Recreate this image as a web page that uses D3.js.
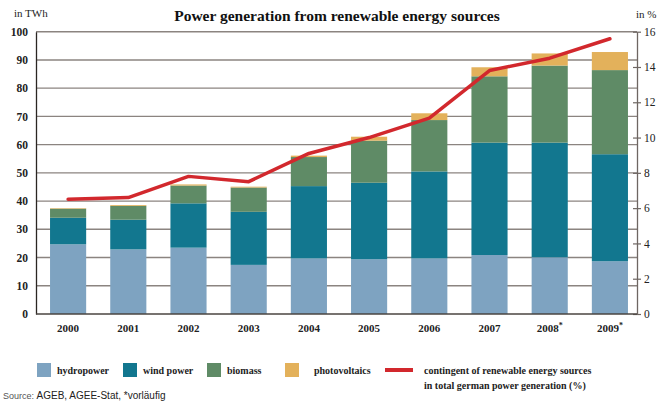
<!DOCTYPE html>
<html>
<head>
<meta charset="utf-8">
<script src="https://cdn.jsdelivr.net/npm/d3@7"></script>
<style>
  body { margin: 0; background: #ffffff; }
  text { font-family: "Liberation Serif", "DejaVu Serif", serif; }
</style>
</head>
<body>
<div id="chart"></div>
<script>
const wSvg = 659
const hSvg = 403

// years on x axis (label, superscript mark)
const years = ["2000", "2001", "2002", "2003", "2004", "2005", "2006", "2007", "2008", "2009"]
const yearMarks = ["", "", "", "", "", "", "", "", "*", "*"]

// TWh per source
const hydropower = [24.7, 22.9, 23.5, 17.4, 19.7, 19.4, 19.7, 20.9, 20.1, 18.7]
const windPower = [9.4, 10.5, 15.7, 18.8, 25.6, 27.1, 30.8, 39.8, 40.6, 37.9]
const biomass = [3.2, 4.9, 6.3, 8.6, 10.3, 14.9, 18.2, 23.5, 27.3, 29.8]
const photovoltaics = [0.2, 0.3, 0.4, 0.3, 0.5, 1.4, 2.4, 3.2, 4.3, 6.4]

// share of renewables in total power generation, %
const renewableShare = [6.5, 6.6, 7.8, 7.5, 9.1, 10.0, 11.1, 13.8, 14.5, 15.6]

const leftTicks = [0, 10, 20, 30, 40, 50, 60, 70, 80, 90, 100]
const rightTicks = [0, 2, 4, 6, 8, 10, 12, 14, 16]

const seriesKeys = ["hydropower", "wind power", "biomass", "photovoltaics"]
const seriesData = [hydropower, windPower, biomass, photovoltaics]
const colors = ["#7ea3c1", "#12778f", "#5f8b66", "#e3b15b"]
const lineColor = "#d2282d"

let svg = d3.select("#chart")
            .append("svg")
            .attr("width", wSvg)
            .attr("height", hSvg)

const plotLeft = 36
const plotRight = 637
const plotTop = 31.7
const plotBottom = 314

// scales
let xScale = d3.scaleBand(years, [38, 640])
               .paddingInner(0.4)
               .paddingOuter(0.2)

let yScale = d3.scaleLinear([0, 100], [plotBottom, plotTop])
let y2Scale = d3.scaleLinear([0, 16], [plotBottom, plotTop])

// stacked table
let table = years.map((y, i) => {
  let row = { year: y }
  seriesKeys.forEach((k, j) => row[k] = seriesData[j][i])
  return row
})
let stacked = d3.stack().keys(seriesKeys)(table)

// gridlines
svg.append("g")
   .selectAll("line")
   .data(leftTicks.slice(1))
   .enter()
   .append("line")
   .attr("x1", plotLeft)
   .attr("x2", plotRight)
   .attr("y1", d => yScale(d))
   .attr("y2", d => yScale(d))
   .attr("stroke", "#8b8480")
   .attr("stroke-width", 1.4)

// bars
svg.append("g")
   .selectAll("g")
   .data(stacked)
   .enter()
   .append("g")
   .attr("fill", (d, i) => colors[i])
   .selectAll("rect")
   .data(d => d)
   .enter()
   .append("rect")
   .attr("x", d => xScale(d.data.year))
   .attr("width", xScale.bandwidth())
   .attr("y", d => yScale(d[1]))
   .attr("height", d => yScale(d[0]) - yScale(d[1]))

// left axis
let yAxisFunction = d3.axisLeft(yScale).tickValues(leftTicks).tickSize(0).tickPadding(8)
let yAxisG = svg.append("g")
   .attr("transform", `translate(${plotLeft}, 0)`)
   .call(yAxisFunction)
yAxisG.select(".domain").attr("stroke", "#2b2623").attr("stroke-width", 1.3)
yAxisG.selectAll("text")
      .style("font-family", "Liberation Serif")
      .style("font-weight", "bold")
      .style("font-size", "11.5px")
      .attr("fill", "#222")

// right axis
let y2AxisFunction = d3.axisRight(y2Scale).tickValues(rightTicks).tickSizeInner(4).tickSizeOuter(0).tickPadding(3)
let y2AxisG = svg.append("g")
   .attr("transform", `translate(${plotRight}, 0)`)
   .call(y2AxisFunction)
y2AxisG.select(".domain").attr("stroke", "#6e6662").attr("stroke-width", 1.3)
y2AxisG.selectAll("line").attr("stroke", "#6e6662").attr("stroke-width", 1.2).attr("x1", -4)
y2AxisG.selectAll("text")
       .style("font-family", "Liberation Serif")
       .style("font-size", "11.5px")
       .attr("fill", "#222")

// bottom axis line
svg.append("line")
   .attr("x1", plotLeft)
   .attr("x2", plotRight)
   .attr("y1", plotBottom)
   .attr("y2", plotBottom)
   .attr("stroke", "#4a4441")
   .attr("stroke-width", 1.4)

// x labels
let xLabels = svg.append("g")
   .selectAll("text")
   .data(years)
   .enter()
   .append("text")
   .attr("x", d => xScale(d) + xScale.bandwidth() / 2)
   .attr("y", 332)
   .attr("text-anchor", "middle")
   .style("font-weight", "bold")
   .style("font-size", "11px")
   .attr("fill", "#222")
xLabels.append("tspan").text(d => d)
xLabels.append("tspan")
       .text((d, i) => yearMarks[i])
       .attr("dy", -4)
       .style("font-size", "8px")

// share line
const dMaker = d3.line()
  .x((d, i) => xScale(years[i]) + xScale.bandwidth() / 2)
  .y(d => y2Scale(d))

svg.append("path")
   .datum(renewableShare)
   .attr("fill", "none")
   .attr("stroke", lineColor)
   .attr("stroke-width", 3.5)
   .attr("stroke-linejoin", "round")
   .attr("stroke-linecap", "round")
   .attr("d", dMaker)

// title and unit labels
svg.append("text")
   .attr("x", 337)
   .attr("y", 21)
   .attr("text-anchor", "middle")
   .style("font-weight", "bold")
   .style("font-size", "15.5px")
   .attr("fill", "#111")
   .text("Power generation from renewable energy sources")

svg.append("text")
   .attr("x", 14)
   .attr("y", 17)
   .style("font-size", "11px")
   .attr("fill", "#222")
   .text("in TWh")

svg.append("text")
   .attr("x", 636)
   .attr("y", 18)
   .style("font-size", "11px")
   .attr("fill", "#222")
   .text("in %")

// legend
const legendX = [37, 123, 207, 285]
let legend = svg.append("g")
seriesKeys.forEach((k, i) => {
  legend.append("rect")
        .attr("x", legendX[i])
        .attr("y", 363)
        .attr("width", 14)
        .attr("height", 14)
        .attr("fill", colors[i])
  legend.append("text")
        .attr("x", legendX[i] + (i == 3 ? 29 : 20))
        .attr("y", 374)
        .style("font-weight", "bold")
        .style("font-size", "10px")
        .attr("fill", "#222")
        .text(k)
})
legend.append("line")
      .attr("x1", 385)
      .attr("x2", 413)
      .attr("y1", 370)
      .attr("y2", 370)
      .attr("stroke", lineColor)
      .attr("stroke-width", 4)
legend.append("text")
      .attr("x", 424)
      .attr("y", 374)
      .style("font-weight", "bold")
      .style("font-size", "10px")
      .attr("fill", "#222")
      .text("contingent of renewable energy sources")
legend.append("text")
      .attr("x", 424)
      .attr("y", 389)
      .style("font-weight", "bold")
      .style("font-size", "10px")
      .attr("fill", "#222")
      .text("in total german power generation (%)")

// source
let source = svg.append("text")
   .attr("x", 3)
   .attr("y", 399)
   .style("font-family", "Liberation Sans Narrow, Liberation Sans, sans-serif")
   .style("font-size", "10px")
   .attr("fill", "#222")
source.append("tspan").text("Source: ").attr("fill", "#555").style("font-size", "9px")
source.append("tspan").text("AGEB, AGEE-Stat, *vorläufig")
</script>
</body>
</html>
